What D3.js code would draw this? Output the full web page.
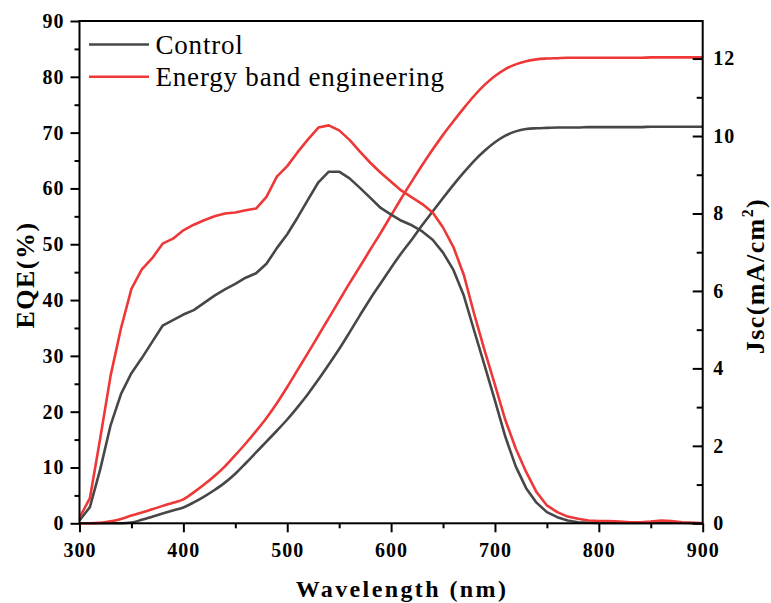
<!DOCTYPE html>
<html><head><meta charset="utf-8">
<script src="https://cdn.jsdelivr.net/npm/d3@7/dist/d3.min.js"></script>
<style>
html,body{margin:0;padding:0;background:#fff;}
svg{display:block;}
text{font-family:"Liberation Serif","Times New Roman",serif;}
</style></head>
<body>
<svg id="chart" width="771" height="603"></svg>
<script>
const wavelengths = d3.range(300, 901, 10);
const eqeControl = [0.5,2.9,9.7,17.6,23.2,26.9,29.6,32.5,35.4,36.4,37.4,38.2,39.5,40.8,41.9,42.9,44.0,44.8,46.5,49.3,51.8,54.8,58.0,61.1,63.0,63.0,61.8,60.1,58.3,56.5,55.3,54.2,53.4,52.3,50.8,48.5,45.4,40.8,34.5,28.3,22.0,15.5,10.2,6.3,3.7,2.0,1.1,0.5,0.2,0.1,0.05,0.05,0.05,0.05,0.05,0.05,0.05,0.05,0.05,0.03,0];
const eqeEnergy = [1.0,4.5,15.3,26.5,35.0,42.0,45.5,47.5,50.1,51.0,52.5,53.5,54.3,55.0,55.5,55.7,56.1,56.4,58.5,62.1,64.0,66.5,68.8,70.9,71.3,70.4,68.7,66.6,64.6,62.8,61.2,59.6,58.4,57.2,55.7,53.0,49.5,44.5,37.5,31.0,24.8,18.5,13.4,9.2,5.6,3.2,2.0,1.2,0.8,0.5,0.4,0.4,0.3,0.2,0.2,0.3,0.5,0.4,0.2,0.1,0];
const jscControl = [0,0,0,0,0,0.02,0.09,0.17,0.25,0.33,0.41,0.54,0.69,0.86,1.05,1.28,1.55,1.83,2.11,2.39,2.68,3.0,3.34,3.71,4.1,4.5,4.93,5.37,5.8,6.2,6.6,6.98,7.33,7.7,8.05,8.4,8.74,9.06,9.36,9.62,9.84,10.01,10.12,10.18,10.2,10.21,10.22,10.22,10.22,10.23,10.23,10.23,10.23,10.23,10.23,10.24,10.24,10.24,10.24,10.24,10.24];
const jscEnergy = [0,0,0.01,0.05,0.11,0.2,0.28,0.36,0.45,0.53,0.62,0.8,1.0,1.22,1.47,1.76,2.06,2.38,2.72,3.1,3.52,3.96,4.4,4.85,5.3,5.75,6.2,6.63,7.07,7.5,7.95,8.4,8.83,9.25,9.65,10.03,10.38,10.72,11.04,11.32,11.55,11.73,11.85,11.93,11.98,12.0,12.01,12.02,12.02,12.02,12.02,12.02,12.02,12.02,12.02,12.03,12.03,12.03,12.03,12.03,12.03];
const xTicks = [300,400,500,600,700,800,900];
const yLeftTicks = [0,10,20,30,40,50,60,70,80,90];
const yRightTicks = [0,2,4,6,8,10,12];
const seriesNames = ["Control","Energy band engineering"];
const colors = ["#474747","#ee3838"];

const svg = d3.select("#chart");
const L = 79.5, R = 702.7, T = 21, B = 523.3;
const x = d3.scaleLinear().domain([300,900]).range([L,R]);
const yL = d3.scaleLinear().domain([0,90]).range([B,T]);
const yR = d3.scaleLinear().domain([0,12.97]).range([B,T]);

// Curves
const eqeLine = d3.line().x((d,i)=>x(wavelengths[i])).y(d=>yL(d)).curve(d3.curveLinear);
const jscLine = d3.line().x((d,i)=>x(wavelengths[i])).y(d=>yR(d)).curve(d3.curveMonotoneX);
const g = svg.append("g");
[[jscControl,0],[jscEnergy,1]].forEach(([d,c])=>{
  g.append("path").attr("d",jscLine(d)).attr("fill","none").attr("stroke",colors[c]).attr("stroke-width",2.6).attr("stroke-linejoin","round");
});
[[eqeControl,0],[eqeEnergy,1]].forEach(([d,c])=>{
  g.append("path").attr("d",eqeLine(d)).attr("fill","none").attr("stroke",colors[c]).attr("stroke-width",2.6).attr("stroke-linejoin","round");
});

// Frame
svg.append("rect").attr("x",L).attr("y",T).attr("width",R-L).attr("height",B-T).attr("fill","none").attr("stroke","#000").attr("stroke-width",2);

function styleAxis(sel, fs){
  sel.select(".domain").remove();
  sel.selectAll("line").attr("stroke","#000").attr("stroke-width",2);
  sel.selectAll("text").attr("font-family","'Liberation Serif','Times New Roman',serif").attr("font-weight","bold").attr("font-size",fs).attr("fill","#000").attr("letter-spacing","1px");
}
// Bottom axis
const bx = svg.append("g").attr("transform",`translate(0,${B})`)
  .call(d3.axisBottom(x).tickValues(xTicks).tickSize(9).tickPadding(11).tickFormat(d3.format("d")));
styleAxis(bx,20);
const bxm = svg.append("g").attr("transform",`translate(0,${B})`)
  .call(d3.axisBottom(x).tickValues(d3.range(350,900,100)).tickSize(5).tickFormat(""));
styleAxis(bxm,20);
// Left axis
const ly = svg.append("g").attr("transform",`translate(${L},0)`)
  .call(d3.axisLeft(yL).tickValues(yLeftTicks).tickSize(9).tickPadding(6).tickFormat(d3.format("d")));
styleAxis(ly,20);
const lym = svg.append("g").attr("transform",`translate(${L},0)`)
  .call(d3.axisLeft(yL).tickValues(d3.range(5,90,10)).tickSize(5).tickFormat(""));
styleAxis(lym,20);
// Right axis (ticks inward)
const ry = svg.append("g").attr("transform",`translate(${R},0)`)
  .call(d3.axisRight(yR).tickValues(yRightTicks).tickSizeInner(-10).tickSizeOuter(0).tickPadding(10.5).tickFormat(d3.format("d")));
styleAxis(ry,20);
const rym = svg.append("g").attr("transform",`translate(${R},0)`)
  .call(d3.axisRight(yR).tickValues(d3.range(1,13,2)).tickSizeInner(-6).tickSizeOuter(0).tickFormat(""));
styleAxis(rym,20);

// Axis titles
svg.append("text").attr("x",402).attr("y",597).attr("text-anchor","middle")
  .attr("font-weight","bold").attr("font-size",24).attr("letter-spacing","2.4px").text("Wavelength (nm)");
svg.append("text").attr("transform","translate(34,275) rotate(-90)").attr("text-anchor","middle")
  .attr("font-weight","bold").attr("font-size",26).attr("letter-spacing","1.5px").text("EQE(%)");
const rt = svg.append("text").attr("transform","translate(764,276) rotate(-90)").attr("text-anchor","middle")
  .attr("font-weight","bold").attr("font-size",26).attr("letter-spacing","1.4px");
rt.append("tspan").text("Jsc(mA/cm");
rt.append("tspan").attr("font-size",16).attr("dy",-11).text("2");
rt.append("tspan").attr("dy",11).text(")");

// Legend
const leg = svg.append("g");
seriesNames.forEach((n,i)=>{
  const yy = 44.5 + i*32.2;
  leg.append("line").attr("x1",89).attr("x2",149).attr("y1",yy).attr("y2",yy).attr("stroke",colors[i]).attr("stroke-width",2.6);
  leg.append("text").attr("x",155.5).attr("y",yy+9.5).attr("font-size",27).attr("letter-spacing","0.8px").attr("fill","#000").text(n);
});
</script>
</body></html>
